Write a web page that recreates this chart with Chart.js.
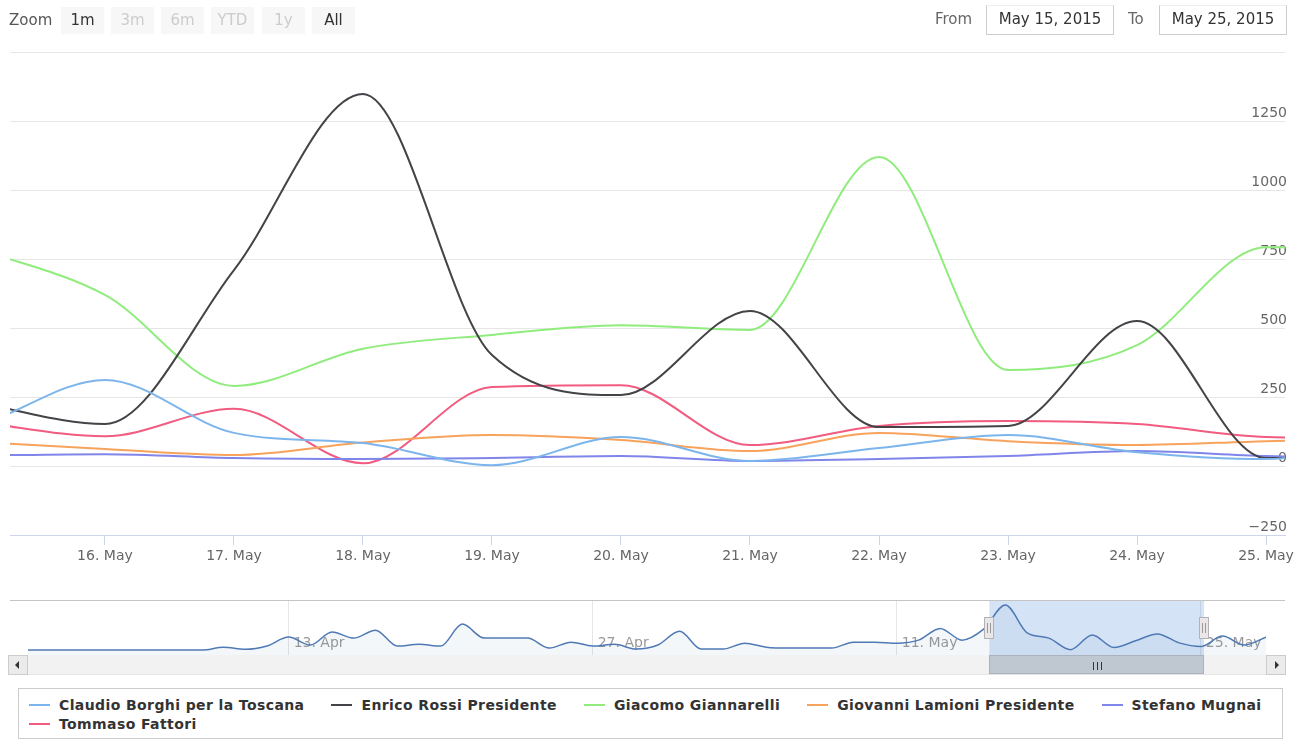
<!DOCTYPE html>
<html>
<head>
<meta charset="utf-8">
<title>Toscana 2015</title>
<script src="https://cdn.jsdelivr.net/npm/chart.js@4.4.1/dist/chart.umd.min.js"></script>
<style>
  body { margin: 0; width: 1300px; height: 740px; position: relative; overflow: hidden; background: #fff;
         font-family: "DejaVu Sans", sans-serif; }
  canvas { position: absolute; }
  #main { left: 0; top: 0; }
  #nav { left: 10px; top: 601px; }
  .abs { position: absolute; }
  .zlabel { left: 9px; top: 7px; height: 26px; line-height: 26px; font-size: 15px; color: #555; }
  .btn { top: 7px; width: 43px; height: 27px; line-height: 26px; text-align: center; background: #f7f7f7;
         font-size: 15px; color: #333; }
  .btn.off { color: #ccc; }
  .dlabel { top: 5px; height: 28px; line-height: 28px; font-size: 15px; color: #666; }
  .dbox { top: 5px; width: 126px; height: 28px; line-height: 27px; border: 1px solid #ccc; border-top-color: #eee;
          text-align: center; font-size: 15px; color: #333; }
  #navTop { left: 10px; top: 600px; width: 1275px; height: 1px; background: #c4c4c4; }
  #track { left: 8px; top: 655px; width: 1277px; height: 19px; background: #f2f2f2; border-bottom: 1px solid #e4e4e4; }
  .sbtn { top: 655px; width: 18px; height: 18px; background: #ebebeb; border: 1px solid #ccc; }
  .sbtn::after { content: ""; position: absolute; top: 5px; width: 0; height: 0; border-top: 4px solid transparent;
                 border-bottom: 4px solid transparent; }
  #sLeft::after { left: 6px; border-right: 4px solid #333; }
  #sRight::after { left: 8px; border-left: 4px solid #333; }
  #thumb { top: 655px; height: 19px; background: #bfc8d1; border: 1px solid #aab3bd; box-sizing: border-box; }
  #thumb i { position: absolute; top: 6px; width: 1px; height: 8px; background: #333; }
  #legend { left: 18px; top: 688px; width: 1253px; height: 41px; border: 1px solid #ccc; padding: 6px 0 2px 10px;
            display: flex; flex-wrap: wrap; align-content: flex-start; column-gap: 27px; }
  .item { display: flex; align-items: center; height: 19px; font-weight: bold; font-size: 14px;
          letter-spacing: 0.4px; color: #333; }
  .item b { display: inline-block; width: 21px; height: 2px; margin-right: 9px; }
</style>
</head>
<body>
<canvas id="main" width="1300" height="580"></canvas>
<canvas id="nav" width="1275" height="54"></canvas>

<div class="abs zlabel">Zoom</div>
<div class="abs btn" style="left:61px">1m</div>
<div class="abs btn off" style="left:111px">3m</div>
<div class="abs btn off" style="left:161px">6m</div>
<div class="abs btn off" style="left:211px">YTD</div>
<div class="abs btn off" style="left:262px">1y</div>
<div class="abs btn" style="left:312px">All</div>
<div class="abs dlabel" style="left:935px">From</div>
<div class="abs dbox" id="fromBox" style="left:986px"></div>
<div class="abs dlabel" style="left:1128px">To</div>
<div class="abs dbox" id="toBox" style="left:1159px"></div>

<div class="abs" id="navTop"></div>
<div class="abs" id="track"></div>
<div class="abs sbtn" id="sLeft" style="left:8px"></div>
<div class="abs sbtn" id="sRight" style="left:1266px"></div>
<div class="abs" id="thumb"><i style="left:calc(50% - 4px)"></i><i style="left:50%"></i><i style="left:calc(50% + 4px)"></i></div>

<div class="abs" id="legend"></div>

<script>
// x values are days counted from 1 April 2015
const months = ['Jan', 'Feb', 'Mar', 'Apr', 'May', 'Jun', 'Jul', 'Aug', 'Sep', 'Oct', 'Nov', 'Dec'];

// Claudio Borghi, daily from 1 Apr to 28 May (also feeds the navigator)
const claudio = [
  0, 0, 0, 0, 0, 0, 0, 0, 0, 20, 5, 28, 90, 35, 125, 83, 138, 28, 40, 28,
  180, 83, 83, 83, 14, 55, 28, 40, 7, 35,
  130, 7, 7, 48, 20, 14, 14, 14, 55, 55, 48, 69, 150, 69, 145, 312, 120, 83,
  3, 105, 18, 65, 112, 50, 25, 97, 35, 90
];

// other lists, daily from 15 May to 26 May
const mayDays = [15, 16, 17, 18, 19, 20, 21, 22, 23, 24, 25, 26];
const enrico = [230, 152, 710, 1348, 402, 257, 562, 141, 145, 525, 29, 29];
const giacomo = [790, 620, 290, 425, 475, 510, 493, 1120, 348, 438, 793, 780];
const giovanni = [88, 62, 40, 85, 112, 94, 54, 120, 90, 76, 90, 100];
const stefano = [38, 43, 29, 25, 29, 36, 18, 25, 36, 54, 36, 30];
const tommaso = [160, 108, 207, 10, 286, 293, 76, 145, 163, 152, 105, 100];

const seriesNames = ['Claudio Borghi per la Toscana', 'Enrico Rossi Presidente', 'Giacomo Giannarelli',
  'Giovanni Lamioni Presidente', 'Stefano Mugnai', 'Tommaso Fattori'];
const seriesColors = ['#7cb5ec', '#434348', '#90ed7d', '#f7a35c', '#8085e9', '#f15c80'];

const yTicks = [-250, 0, 250, 500, 750, 1000, 1250, 1500];
const mainTicks = [45, 46, 47, 48, 49, 50, 51, 52, 53, 54];   // 16. May .. 25. May
const navTicks = [12, 26, 40, 54];                            // 13. Apr, 27. Apr, 11. May, 25. May

// visible window: 15 May ~06:20 to 25 May ~03:30
const viewMin = 44.264;
const viewMax = 54.147;

function toDate(v) { return new Date(2015, 3, 1 + Math.floor(v)); }
function dayLabel(v) { const d = toDate(v); return d.getDate() + '. ' + months[d.getMonth()]; }
function longDate(v) { const d = toDate(v); return months[d.getMonth()] + ' ' + d.getDate() + ', ' + d.getFullYear(); }

const mayX = mayDays.map(d => d + 29);
const pts = vals => vals.map((v, i) => ({ x: mayX[i], y: v }));
const claudioPts = claudio.map((v, i) => ({ x: i, y: v }));

const seriesData = [claudioPts, pts(enrico), pts(giacomo), pts(giovanni), pts(stefano), pts(tommaso)];

Chart.defaults.font.family = '"DejaVu Sans", sans-serif';
Chart.defaults.animation = false;

new Chart(document.getElementById('main'), {
  type: 'line',
  data: {
    datasets: seriesData.map((d, i) => ({
      label: seriesNames[i],
      data: d,
      borderColor: seriesColors[i],
      borderWidth: 2,
      pointRadius: 0,
      cubicInterpolationMode: 'monotone',
      clip: 0
    }))
  },
  options: {
    responsive: false,
    events: [],
    layout: { autoPadding: false, padding: { top: 52, left: 10, right: 15, bottom: 5 } },
    plugins: { legend: { display: false }, tooltip: { enabled: false } },
    scales: {
      x: {
        type: 'linear', min: viewMin, max: viewMax,
        afterBuildTicks: s => { s.ticks = mainTicks.map(v => ({ value: v })); },
        afterFit: s => { s.height = 40; },
        grid: { drawOnChartArea: false, color: '#ccd6eb', tickLength: 10 },
        border: { color: '#ccd6eb' },
        ticks: { color: '#666', font: { size: 14 }, padding: 3, maxRotation: 0, autoSkip: false, callback: v => dayLabel(v) }
      },
      y: {
        position: 'right', min: -250, max: 1500,
        afterBuildTicks: s => { s.ticks = yTicks.map(v => ({ value: v })); },
        afterFit: s => { s.width = 0; },
        grid: { color: '#e6e6e6', drawTicks: false },
        border: { display: false },
        ticks: {
          mirror: true, padding: 2, labelOffset: -8, color: '#666', font: { size: 14 },
          callback: v => v === 1500 ? '' : (v < 0 ? '\u2212' + Math.abs(v) : String(v))
        }
      }
    }
  }
});

// navigator: labels and selection mask under the line, handles on top
const navDecor = {
  id: 'navDecor',
  beforeDatasetsDraw(chart) {
    const ctx = chart.ctx, xs = chart.scales.x;
    ctx.save();
    ctx.font = '14px "DejaVu Sans"';
    ctx.fillStyle = '#999';
    ctx.textBaseline = 'middle';
    navTicks.forEach(v => ctx.fillText(dayLabel(v), xs.getPixelForValue(v) + 5, 42));
    const x0 = xs.getPixelForValue(viewMin), x1 = xs.getPixelForValue(viewMax);
    ctx.fillStyle = 'rgba(102,153,220,0.28)';
    ctx.fillRect(x0, 0, x1 - x0, chart.height);
    ctx.restore();
  },
  afterDraw(chart) {
    const ctx = chart.ctx, xs = chart.scales.x;
    ctx.save();
    [viewMin, viewMax].forEach(v => {
      const x = Math.round(xs.getPixelForValue(v));
      ctx.fillStyle = '#ebe7e8';
      ctx.strokeStyle = '#b2b1b6';
      ctx.lineWidth = 1;
      ctx.fillRect(x - 4, 17, 8, 20);
      ctx.strokeRect(x - 4.5, 16.5, 9, 21);
      ctx.strokeStyle = '#999';
      ctx.beginPath();
      ctx.moveTo(x - 1.5, 22); ctx.lineTo(x - 1.5, 32);
      ctx.moveTo(x + 1.5, 22); ctx.lineTo(x + 1.5, 32);
      ctx.stroke();
    });
    ctx.restore();
  }
};

const nav = new Chart(document.getElementById('nav'), {
  type: 'line',
  data: {
    datasets: [{
      data: claudioPts,
      borderColor: '#4f79b5',
      borderWidth: 1.5,
      backgroundColor: 'rgba(69,114,167,0.06)',
      fill: 'start',
      pointRadius: 0,
      cubicInterpolationMode: 'monotone'
    }]
  },
  options: {
    responsive: false,
    events: [],
    layout: { autoPadding: false, padding: { top: 0, left: 18, right: 19, bottom: 0 } },
    plugins: { legend: { display: false }, tooltip: { enabled: false } },
    scales: {
      x: {
        type: 'linear', min: 0, max: claudio.length - 1,
        afterBuildTicks: s => { s.ticks = navTicks.map(v => ({ value: v })); },
        afterFit: s => { s.height = 0; },
        grid: { color: '#e6e6e6', drawTicks: false },
        border: { display: false },
        ticks: { display: false }
      },
      y: { display: false, min: -34, max: 340 }
    }
  },
  plugins: [navDecor]
});

// scrollbar thumb follows the selection
const tx0 = nav.scales.x.getPixelForValue(viewMin) + 10;
const tx1 = nav.scales.x.getPixelForValue(viewMax) + 10;
const thumb = document.getElementById('thumb');
thumb.style.left = tx0 + 'px';
thumb.style.width = (tx1 - tx0) + 'px';

document.getElementById('fromBox').textContent = longDate(viewMin);
document.getElementById('toBox').textContent = longDate(viewMax);

const legend = document.getElementById('legend');
seriesNames.forEach((n, i) => {
  const el = document.createElement('div');
  el.className = 'item';
  el.innerHTML = '<b style="background:' + seriesColors[i] + '"></b>' + n;
  legend.appendChild(el);
});
</script>
</body>
</html>
